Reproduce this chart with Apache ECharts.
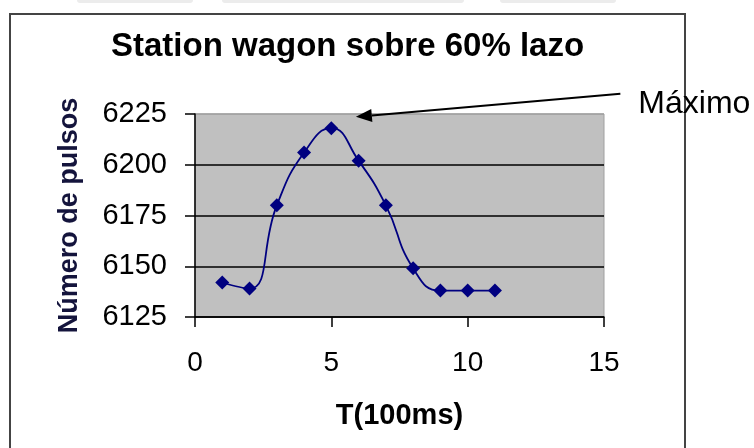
<!DOCTYPE html>
<html>
<head>
<meta charset="utf-8">
<script src="https://cdn.jsdelivr.net/npm/echarts@6/dist/echarts.min.js"></script>
<style>
  html, body { margin: 0; padding: 0; background: #fff; }
  #main { width: 754px; height: 448px; }
</style>
</head>
<body>
<div id="main"></div>
<script>
// datos
const tiempo = [1, 2, 3, 4, 5, 6, 7, 8, 9, 10, 11];
const pulsos = [6142, 6139, 6180, 6206, 6218, 6202, 6180, 6149, 6138, 6138, 6138];
const yTicks = [6125, 6150, 6175, 6200, 6225];
const xTicks = [0, 5, 10, 15];
// flecha "Máximo": punta y origen en coordenadas de datos
const flechaPunta = [5.9, 6223.6];
const flechaOrigen = [15.6, 6235];

const chart = echarts.init(document.getElementById('main'));
const fuente = '"Liberation Sans", Arial, sans-serif';

const option = {
  backgroundColor: '#fff',
  animation: false,
  title: {
    text: 'Station wagon sobre 60% lazo',
    left: 106,
    top: 25,
    textStyle: { fontFamily: fuente, fontSize: 33, fontWeight: 'bold', color: '#000' }
  },
  grid: {
    left: 195, top: 114, right: 150, bottom: 131,
    show: true,
    backgroundColor: '#c0c0c0',
    borderColor: '#a0a0a0',
    borderWidth: 1,
    outerBoundsMode: 'none'
  },
  xAxis: {
    type: 'value',
    min: xTicks[0],
    max: xTicks[xTicks.length - 1],
    interval: 5,
    name: 'T(100ms)',
    nameLocation: 'middle',
    nameGap: 84,
    nameTextStyle: { fontFamily: fuente, fontSize: 29, fontWeight: 'bold', color: '#000' },
    axisLine: { lineStyle: { color: '#000', width: 1.5 } },
    axisTick: { inside: false, length: 10, lineStyle: { color: '#000', width: 1.5 } },
    axisLabel: { margin: 32, fontFamily: fuente, fontSize: 28, color: '#000' },
    splitLine: { show: false }
  },
  yAxis: {
    type: 'value',
    min: yTicks[0],
    max: yTicks[yTicks.length - 1],
    interval: 25,
    name: 'Número de pulsos',
    nameLocation: 'middle',
    nameGap: 112,
    nameTextStyle: { fontFamily: fuente, fontSize: 27, fontWeight: 'bold', color: '#14143c' },
    axisLine: { show: true, lineStyle: { color: '#000', width: 1.5 } },
    axisTick: { show: true, inside: false, length: 10, lineStyle: { color: '#000', width: 1.5 } },
    axisLabel: {
      margin: 28, fontFamily: fuente, fontSize: 29, color: '#000',
      formatter: (v) => String(v)
    },
    splitLine: {
      show: true,
      lineStyle: { color: ['#000', '#000', '#000', '#000', '#a0a0a0'], width: 1.5 }
    }
  },
  series: [{
    type: 'line',
    data: tiempo.map((t, i) => [t, pulsos[i]]),
    smooth: 0.5,
    symbol: 'diamond',
    symbolSize: 14,
    showAllSymbol: true,
    lineStyle: { color: '#000080', width: 1.8 },
    itemStyle: { color: '#000080' },
    clip: false
  }]
};
chart.setOption(option);

// flecha y texto de anotacion
const p1 = chart.convertToPixel({ gridIndex: 0 }, flechaOrigen);
const p2 = chart.convertToPixel({ gridIndex: 0 }, flechaPunta);
const ang = Math.atan2(p2[1] - p1[1], p2[0] - p1[0]);
const largo = 16, ancho = 6.5;
const base = [p2[0] - largo * Math.cos(ang), p2[1] - largo * Math.sin(ang)];
const punta = [
  p2,
  [base[0] + ancho * Math.sin(ang), base[1] - ancho * Math.cos(ang)],
  [base[0] - ancho * Math.sin(ang), base[1] + ancho * Math.cos(ang)]
];

chart.setOption({
  graphic: [
    // marco exterior
    { type: 'rect', shape: { x: 10, y: 14, width: 675, height: 460 },
      style: { fill: 'none', stroke: '#444', lineWidth: 2 }, z: 100 },
    // restos de pagina arriba
    { type: 'rect', shape: { x: 77, y: -4, width: 116, height: 7, r: 3 }, style: { fill: '#ececec' } },
    { type: 'rect', shape: { x: 222, y: -4, width: 242, height: 7, r: 3 }, style: { fill: '#ececec' } },
    { type: 'rect', shape: { x: 500, y: -4, width: 116, height: 7, r: 3 }, style: { fill: '#ececec' } },
    { type: 'line', shape: { x1: p1[0], y1: p1[1], x2: base[0], y2: base[1] },
      style: { stroke: '#000', lineWidth: 2 }, z: 100 },
    { type: 'polygon', shape: { points: punta }, style: { fill: '#000' }, z: 100 },
    { type: 'text', x: p1[0] + 18, y: p1[1] + 10,
      style: { text: 'Máximo', font: '32px ' + fuente, fill: '#000', verticalAlign: 'middle' }, z: 100 }
  ]
});
</script>
</body>
</html>
